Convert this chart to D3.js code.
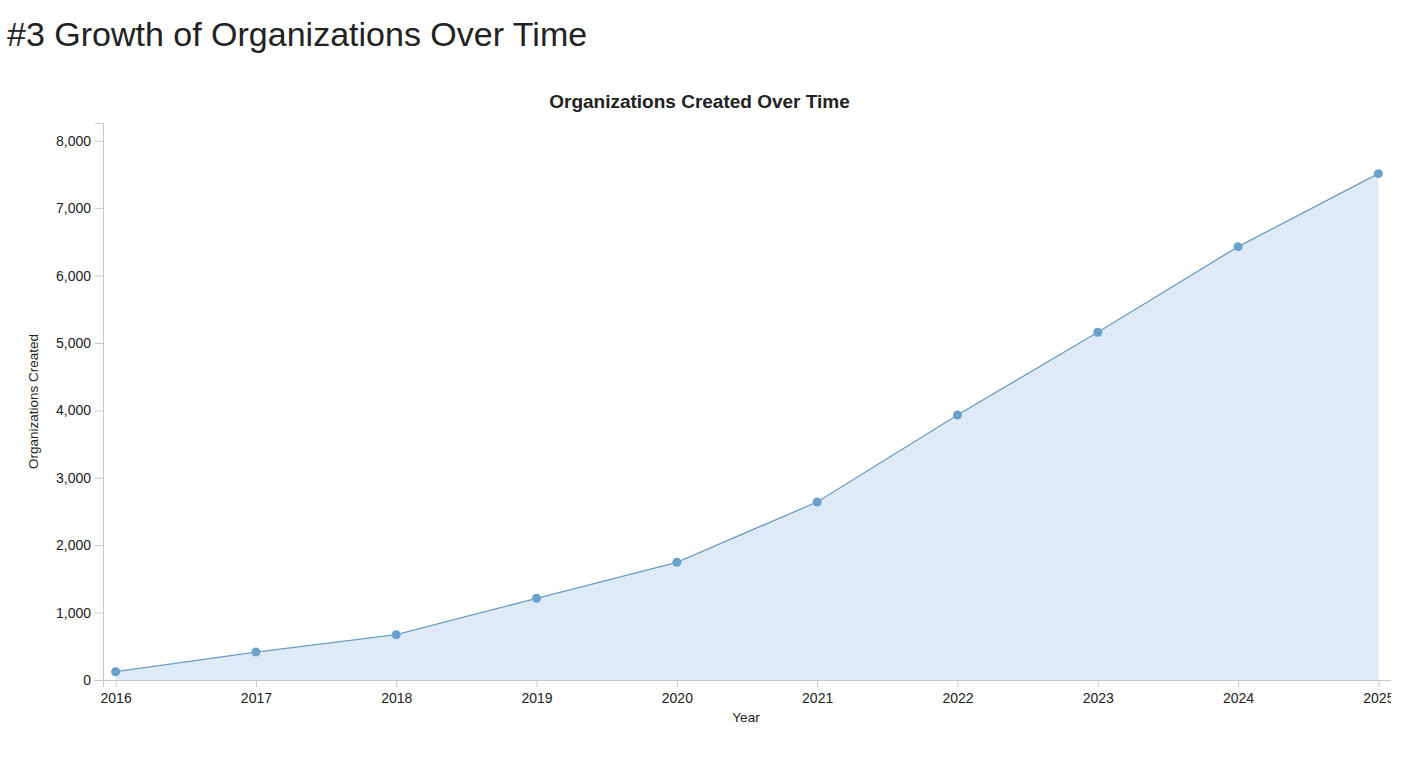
<!DOCTYPE html>
<html>
<head>
<meta charset="utf-8">
<script src="https://cdn.jsdelivr.net/npm/d3@7"></script>
<style>
  body { margin: 0; background: #fff; font-family: "Liberation Sans", Arial, sans-serif; }
  h1 { position: absolute; left: 7px; top: 17px; margin: 0; font-size: 34px; line-height: 34px; font-weight: normal; color: #222; white-space: nowrap; }
  #chart { position: absolute; left: 8px; top: 0; }
  .axis path, .axis line { stroke: #c8c8c8; }
  .axis text { fill: #222; font-size: 14px; font-family: "Liberation Sans", Arial, sans-serif; }
</style>
</head>
<body>
<h1>#3 Growth of Organizations Over Time</h1>
<svg id="chart"></svg>
<script>
// values
var years = [2016, 2017, 2018, 2019, 2020, 2021, 2022, 2023, 2024, 2025];
var orgsCreated = [123, 415, 672, 1212, 1746, 2641, 3932, 5159, 6429, 7512];

var width = 1383, height = 761;
var margin = { top: 123, right: 0, bottom: 81, left: 95 };
var w = width - margin.left - margin.right;
var h = height - margin.top - margin.bottom;

var svg = d3.select('#chart').attr('width', width).attr('height', height);

var data = years.map(function (y, i) { return { year: y, value: orgsCreated[i] }; });

var x = d3.scalePoint().domain(years).range([0, w]).padding(0.09);
var y = d3.scaleLinear().domain([0, d3.max(orgsCreated) * 1.1]).range([h, 0]);

var g = svg.append('g').attr('transform', 'translate(' + margin.left + ',' + margin.top + ')');

// area under the line
var area = d3.area()
  .x(function (d) { return x(d.year); })
  .y0(h)
  .y1(function (d) { return y(d.value); });
g.append('path').datum(data).attr('d', area).attr('fill', '#deebf7');

var line = d3.line()
  .x(function (d) { return x(d.year); })
  .y(function (d) { return y(d.value); });
g.append('path').datum(data).attr('d', line)
  .attr('fill', 'none').attr('stroke', '#6b9dc0').attr('stroke-width', 1.3);

g.selectAll('circle.dot').data(data).enter().append('circle')
  .attr('class', 'dot')
  .attr('cx', function (d) { return x(d.year); })
  .attr('cy', function (d) { return y(d.value); })
  .attr('r', 4.5)
  .attr('fill', '#6aa0cc');

// axes
g.append('g').attr('class', 'axis')
  .attr('transform', 'translate(0,' + h + ')')
  .call(d3.axisBottom(x).tickSize(7).tickPadding(6).tickFormat(d3.format('d')));

g.append('g').attr('class', 'axis')
  .call(d3.axisLeft(y).tickSize(8).tickPadding(4).tickFormat(d3.format(',')));

// titles
svg.append('text')
  .attr('x', width / 2).attr('y', 108)
  .attr('text-anchor', 'middle')
  .style('font-size', '19px').style('font-weight', 'bold').style('fill', '#222')
  .text('Organizations Created Over Time');

svg.append('text')
  .attr('x', margin.left + w / 2 - 1).attr('y', 722)
  .attr('text-anchor', 'middle')
  .style('font-size', '13.5px').style('fill', '#222')
  .text('Year');

svg.append('text')
  .attr('transform', 'translate(30,' + (margin.top + h / 2) + ') rotate(-90)')
  .attr('text-anchor', 'middle')
  .style('font-size', '13.5px').style('fill', '#222')
  .text('Organizations Created');
</script>
</body>
</html>
